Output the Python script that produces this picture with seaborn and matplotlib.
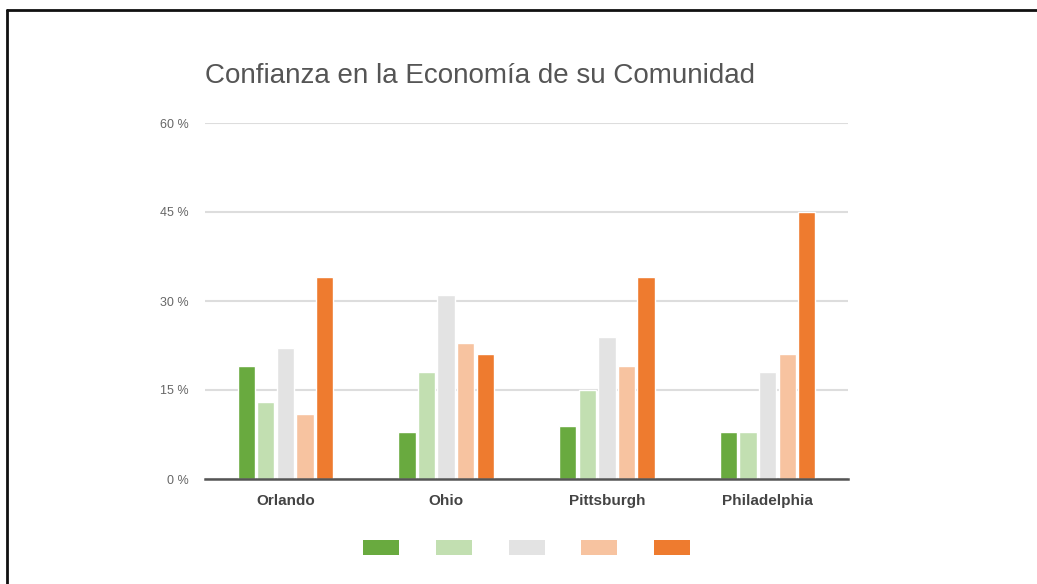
from __future__ import annotations

import matplotlib

matplotlib.use("Agg")
import matplotlib.pyplot as plt
import pandas as pd
import seaborn as sns
from matplotlib.lines import Line2D
from matplotlib.patches import Patch

cities = ["Orlando", "Ohio", "Pittsburgh", "Philadelphia"]
series = ["Serie 1", "Serie 2", "Serie 3", "Serie 4", "Serie 5"]
serie_1 = [19, 8, 9, 8]
serie_2 = [13, 18, 15, 8]
serie_3 = [22, 31, 24, 18]
serie_4 = [11, 23, 19, 21]
serie_5 = [34, 21, 34, 45]
y_ticks = [0, 15, 30, 45, 60]
y_tick_labels = ["0 %", "15 %", "30 %", "45 %", "60 %"]
colors = ["#69aa3f", "#c2dfb1", "#e3e3e3", "#f7c3a0", "#ee7b2f"]
title = "Confianza en la Economía de su Comunidad"


def build_frame() -> pd.DataFrame:
    rows = []
    for name, values in zip(series, [serie_1, serie_2, serie_3, serie_4, serie_5]):
        for city, value in zip(cities, values):
            rows.append({"city": city, "serie": name, "value": value})
    return pd.DataFrame(rows)


def main() -> None:
    sns.set_theme(style="white")
    plt.rcParams["font.family"] = ["Liberation Sans", "DejaVu Sans"]

    df = build_frame()
    fig = plt.figure(figsize=(10.37, 5.84), dpi=100)
    ax = fig.add_axes([205 / 1037, 1 - 479 / 584, 643 / 1037, 356 / 584])

    sns.barplot(
        data=df,
        x="city",
        y="value",
        hue="serie",
        order=cities,
        hue_order=series,
        palette=colors,
        width=0.61,
        gap=0.12,
        saturation=1,
        legend=False,
        ax=ax,
    )

    ax.set_ylim(0, 60)
    ax.set_yticks(y_ticks)
    ax.set_yticklabels(y_tick_labels, fontsize=9, color="#666666")
    ax.yaxis.grid(True, color="#dddddd", linewidth=1.5)
    ax.set_axisbelow(True)
    ax.tick_params(axis="both", length=0)
    ax.tick_params(axis="y", pad=12)
    ax.tick_params(axis="x", pad=11)
    for label in ax.get_xticklabels():
        label.set_fontsize(11)
        label.set_color("#444444")
        label.set_fontweight("semibold")
    ax.set_xlabel("")
    ax.set_ylabel("")
    sns.despine(ax=ax, left=True)
    ax.spines["bottom"].set_color("#555555")
    ax.spines["bottom"].set_linewidth(1.8)

    fig.text(205 / 1037, 1 - 76 / 584, title, fontsize=20, color="#555555", va="center", ha="left")

    handles = [Patch(facecolor=c, edgecolor="none") for c in colors]
    fig.legend(
        handles,
        [""] * len(handles),
        loc="center",
        bbox_to_anchor=(526.5 / 1037, 1 - 548 / 584),
        ncol=5,
        frameon=False,
        fontsize=12,
        handlelength=2.16,
        handleheight=0.96,
        handletextpad=0,
        columnspacing=2.2,
    )

    fig.add_artist(Line2D([7 / 1037, 1], [1 - 10 / 584, 1 - 10 / 584], color="#111111", linewidth=2))
    fig.add_artist(Line2D([7 / 1037, 7 / 1037], [0, 1 - 10 / 584], color="#111111", linewidth=2))

    fig.savefig("out.png", dpi=100, facecolor="white")


if __name__ == "__main__":
    main()
